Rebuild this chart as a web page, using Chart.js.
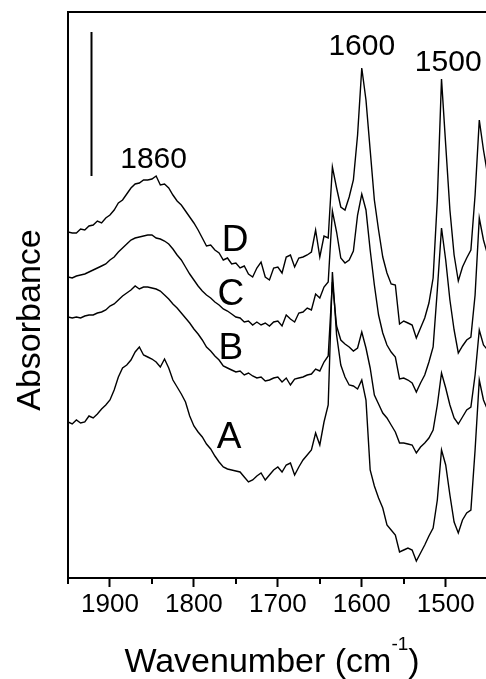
<!DOCTYPE html>
<html>
<head>
<meta charset="utf-8">
<title>IR spectra</title>
<script src="https://cdn.jsdelivr.net/npm/chart.js@4.4.1/dist/chart.umd.min.js"></script>
<style>
  html, body { margin: 0; padding: 0; background: #fff; overflow: hidden; }
  #wrap { width: 486px; height: 679px; }
</style>
</head>
<body>
<div id="wrap"><canvas id="spectra"></canvas></div>
<script>
// wavenumber grid (cm-1), high to low
const wavenumbers = [
  1950, 1945, 1940, 1935, 1930, 1925, 1920, 1915, 1910, 1905,
  1900, 1895, 1890, 1885, 1880, 1875, 1870, 1865, 1860, 1855,
  1850, 1845, 1840, 1835, 1830, 1825, 1820, 1815, 1810, 1805,
  1800, 1795, 1790, 1785, 1780, 1775, 1770, 1765, 1760, 1755,
  1750, 1745, 1740, 1735, 1730, 1725, 1720, 1715, 1710, 1705,
  1700, 1695, 1690, 1685, 1680, 1675, 1670, 1665, 1660, 1655,
  1650, 1645, 1640, 1635, 1630, 1625, 1620, 1615, 1610, 1605,
  1600, 1595, 1590, 1585, 1580, 1575, 1570, 1565, 1560, 1555,
  1550, 1545, 1540, 1535, 1530, 1525, 1520, 1515, 1510, 1505,
  1500, 1495, 1490, 1485, 1480, 1475, 1470, 1465, 1460, 1455,
  1450
];

// stacked absorbance traces (mAU, offsets included)
const spectrumA = [
  156, 154, 158, 155, 156, 162, 160, 164, 169, 173,
  178, 188, 201, 210, 213, 218, 226, 231, 223, 221,
  219, 216, 211, 219, 210, 198, 191, 184, 176, 162,
  152, 146, 141, 134, 129, 122, 116, 111, 109, 108,
  107, 106, 101, 96, 98, 102, 105, 98, 103, 108,
  111, 106, 113, 115, 103, 111, 118, 123, 128, 145,
  133, 156, 173, 306, 243, 213, 201, 193, 192, 189,
  198, 178, 108, 92, 80, 70, 53, 48, 43, 26,
  28, 30, 28, 17, 25, 33, 42, 50, 78, 128,
  113, 83, 56, 45, 58, 65, 68, 128, 198, 178,
  168
];
const spectrumB = [
  261, 260, 261, 260, 262, 263, 263, 265, 266, 268,
  272, 274, 278, 282, 285, 288, 292, 289, 291, 291,
  290, 289, 287, 283, 279, 274, 270, 265, 260, 255,
  249, 244, 238, 231, 227, 222, 218, 212, 210, 208,
  206, 207, 203, 205, 202, 200, 201, 197, 198, 200,
  201, 196, 200, 193, 199, 200, 201, 203, 204, 209,
  207, 216, 222, 296, 252, 238, 234, 231, 227, 230,
  246, 230, 210, 183, 174, 165, 160, 153, 146, 135,
  135, 134, 133, 125, 131, 135, 140, 148, 173, 205,
  190, 173, 160, 154, 161, 168, 171, 203, 248, 233,
  228
];
const spectrumC = [
  301, 300, 302, 303, 304, 306, 308, 310, 312, 314,
  318, 321, 326, 330, 334, 338, 340, 341, 342, 343,
  343, 340, 339, 337, 334, 329, 323, 318, 311, 304,
  298, 292, 287, 283, 280, 276, 273, 269, 267, 264,
  261, 260, 256, 257, 253, 256, 253, 255, 252, 256,
  257, 252, 263, 259, 256, 265, 266, 270, 268, 284,
  280, 291, 296, 367, 346, 320, 315, 318, 327, 363,
  384, 368, 328, 293, 263, 245, 233, 226, 221, 199,
  200, 198, 195, 186, 195, 203, 216, 231, 288, 350,
  318, 278, 248, 225, 232, 238, 241, 283, 360, 338,
  323
];
const spectrumD = [
  346, 345, 345, 349, 348, 352, 353, 357, 355, 360,
  363, 368, 375, 378, 384, 390, 394, 395, 398, 398,
  399, 402, 393, 394, 390, 383, 377, 373, 367, 361,
  355, 348, 340, 332, 333, 328, 325, 318, 320, 314,
  315, 310, 312, 304, 301, 310, 316, 301, 298, 310,
  311, 305, 321, 323, 311, 320, 321, 323, 326, 348,
  321, 342, 340, 411, 390, 371, 368, 381, 398, 443,
  510, 478, 428, 378, 348, 321, 305, 294, 293, 254,
  257, 255, 253, 240, 250, 260, 275, 300, 378, 499,
  433, 368, 323, 297, 311, 320, 328, 383, 458, 428,
  403
];

const traceNames = ['A', 'B', 'C', 'D'];
const bandLabels = ['1860', '1600', '1500'];
const majorTicks = [1500, 1600, 1700, 1800, 1900];
const minorTicks = [1950, 1850, 1750, 1650, 1550, 1450];
const scaleBarAt = 1923;
const scaleBarSpan = [402, 546];

const FONT = "'Liberation Sans', Arial, Helvetica, sans-serif";

function toPoints(values) {
  return values.map((v, i) => ({ x: wavenumbers[i], y: v }));
}

// extra furniture: frame top, minor ticks, scale bar, labels, axis titles
const decor = {
  id: 'decor',
  afterDraw(chart) {
    const { ctx, chartArea: area, scales: { x, y } } = chart;
    ctx.save();
    ctx.strokeStyle = '#000';
    ctx.fillStyle = '#000';

    // top frame line
    ctx.lineWidth = 2;
    ctx.beginPath();
    ctx.moveTo(area.left - 1, area.top);
    ctx.lineTo(chart.width, area.top);
    ctx.stroke();

    // minor ticks
    minorTicks.forEach(w => {
      const px = Math.round(x.getPixelForValue(w));
      if (px < area.left - 2 || px > chart.width) return;
      ctx.beginPath();
      ctx.moveTo(px, area.bottom);
      ctx.lineTo(px, area.bottom + 6);
      ctx.stroke();
    });

    // absorbance scale bar
    const bx = Math.round(x.getPixelForValue(scaleBarAt)) + 0.5;
    ctx.beginPath();
    ctx.moveTo(bx, y.getPixelForValue(scaleBarSpan[0]));
    ctx.lineTo(bx, y.getPixelForValue(scaleBarSpan[1]));
    ctx.stroke();

    // band positions
    const bandAnchors = [[1848, 410], [1600, 523], [1497, 507]];
    ctx.textAlign = 'center';
    ctx.textBaseline = 'alphabetic';
    ctx.font = '30px ' + FONT;
    bandLabels.forEach((t, i) => {
      const [w, v] = bandAnchors[i];
      ctx.fillText(t, x.getPixelForValue(w), y.getPixelForValue(v));
    });

    // trace letters
    const traceAnchors = [[1758, 130], [1756, 219], [1756, 273], [1751, 327]];
    ctx.font = '37px ' + FONT;
    traceNames.forEach((t, i) => {
      const [w, v] = traceAnchors[i];
      ctx.fillText(t, x.getPixelForValue(w), y.getPixelForValue(v));
    });

    // x title with superscript
    const main = 'Wavenumber (cm', sup = '-1', tail = ')';
    ctx.font = '34px ' + FONT;
    const w1 = ctx.measureText(main).width;
    const w3 = ctx.measureText(tail).width;
    ctx.font = '19px ' + FONT;
    const w2 = ctx.measureText(sup).width;
    const cx = (area.left + area.right) / 2 - 5;
    let tx = cx - (w1 + w2 + w3) / 2;
    const base = chart.height - 7;
    ctx.textAlign = 'left';
    ctx.font = '34px ' + FONT;
    ctx.fillText(main, tx, base);
    tx += w1;
    ctx.font = '19px ' + FONT;
    ctx.fillText(sup, tx, base - 22);
    tx += w2;
    ctx.font = '34px ' + FONT;
    ctx.fillText(tail, tx, base);

    // y title
    ctx.translate(area.left - 28, (area.top + area.bottom) / 2 + 25);
    ctx.rotate(-Math.PI / 2);
    ctx.textAlign = 'center';
    ctx.fillText('Absorbance', 0, 0);
    ctx.restore();
  }
};

const traces = [spectrumA, spectrumB, spectrumC, spectrumD];

new Chart(document.getElementById('spectra'), {
  type: 'line',
  data: {
    datasets: traces.map((s, i) => ({
      label: traceNames[i],
      data: toPoints(s),
      borderColor: '#000',
      borderWidth: 1.4,
      pointRadius: 0,
      tension: 0,
      fill: false
    }))
  },
  options: {
    responsive: true,
    maintainAspectRatio: false,
    animation: false,
    devicePixelRatio: 1,
    layout: { padding: { top: 12, right: 0, left: 0, bottom: 0 } },
    plugins: { legend: { display: false }, tooltip: { enabled: false } },
    scales: {
      x: {
        type: 'linear',
        reverse: true,
        min: 1452,
        max: 1950,
        grid: { drawOnChartArea: false, drawTicks: true, tickLength: 9, tickWidth: 2, tickColor: '#000' },
        border: { display: true, color: '#000', width: 2 },
        afterBuildTicks(scale) {
          scale.ticks = majorTicks.map(v => ({ value: v }));
        },
        ticks: {
          autoSkip: false,
          maxRotation: 0,
          padding: 2,
          color: '#000',
          font: { size: 26, family: FONT },
          callback: v => String(v)
        },
        afterFit(scale) { scale.height = 101; }
      },
      y: {
        min: 0,
        max: 566,
        grid: { drawOnChartArea: false, drawTicks: false },
        border: { display: true, color: '#000', width: 2 },
        ticks: { display: false },
        afterFit(scale) { scale.width = 68; }
      }
    }
  },
  plugins: [decor]
});
</script>
</body>
</html>
